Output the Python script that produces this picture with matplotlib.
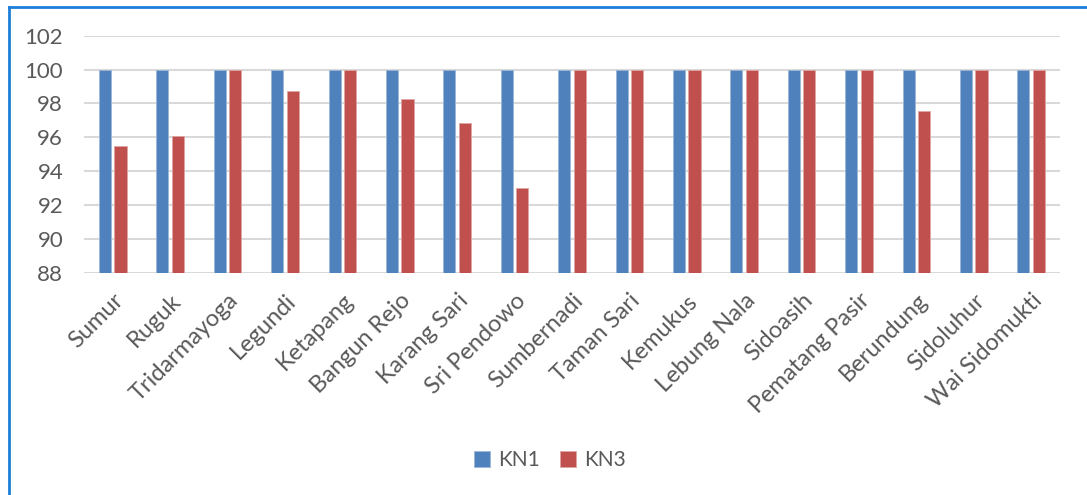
import matplotlib.pyplot as plt
import numpy as np
from matplotlib.lines import Line2D

# Data
villages = ['Sumur', 'Ruguk', 'Tridarmayoga', 'Legundi', 'Ketapang', 'Bangun Rejo',
            'Karang Sari', 'Sri Pendowo', 'Sumbernadi', 'Taman Sari', 'Kemukus',
            'Lebung Nala', 'Sidoasih', 'Pematang Pasir', 'Berundung', 'Sidoluhur',
            'Wai Sidomukti']
kn1 = [100, 100, 100, 100, 100, 100, 100, 100, 100, 100, 100, 100, 100, 100, 100, 100, 100]
kn3 = [95.5, 96.1, 100, 98.75, 100, 98.25, 96.85, 93.0, 100, 100, 100, 100, 100, 100, 97.55, 100, 100]
yticks = [88, 90, 92, 94, 96, 98, 100, 102]

plt.rcParams['font.family'] = ['Lato', 'DejaVu Sans']
text_color = '#595959'

fig = plt.figure(figsize=(10.87, 4.95), dpi=100)
ax = fig.add_axes([0.0773, 0.4485, 0.8977, 0.4795])

x = np.arange(len(villages))
w = 0.21
ax.bar(x - 0.135, kn1, width=w, bottom=0, color='#4F81BD', edgecolor='#9DB7D8', linewidth=0.6, label='KN1', zorder=3)
ax.bar(x + 0.135, kn3, width=w, bottom=0, color='#C0504D', edgecolor='#E0A5A3', linewidth=0.6, label='KN3', zorder=3)

ax.set_ylim(88, 102)
ax.set_xlim(-0.5, len(villages) - 0.5)
ax.set_yticks(yticks)
ax.yaxis.grid(True, color='#D9D9D9', linewidth=1.5, zorder=0)
for s in ax.spines.values():
    s.set_visible(False)
ax.tick_params(axis='both', length=0, colors=text_color)
ax.tick_params(axis='y', pad=15, labelsize=16)
ax.set_xticks(x)
ax.set_xticklabels(villages, rotation=45, ha='right', rotation_mode='anchor')
ax.tick_params(axis='x', pad=12, labelsize=17)

fig.legend(loc='center', bbox_to_anchor=(0.506, 0.07), ncol=2, frameon=False,
           handlelength=0.75, handleheight=0.75, handletextpad=0.4, columnspacing=1.0,
           labelcolor=text_color, fontsize=15)

# blue frame (left and top edges visible)
fx = 9 / 1087
fy = 1 - 6.5 / 495
fig.add_artist(Line2D([fx, fx], [0, fy], transform=fig.transFigure, color='#1E7FD8', linewidth=2))
fig.add_artist(Line2D([fx, 1], [fy, fy], transform=fig.transFigure, color='#1E7FD8', linewidth=2))

fig.savefig('out.png', dpi=100)
